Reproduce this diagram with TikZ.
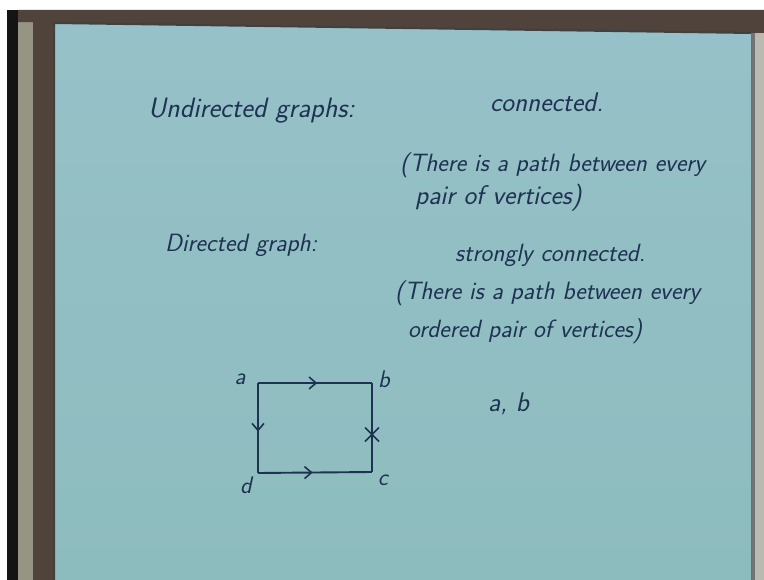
\documentclass[tikz,border=0pt]{standalone}
\usepackage{tikz}
\usetikzlibrary{arrows.meta,decorations.markings}
\usepackage{xcolor}
\definecolor{paper}{RGB}{141,188,190}
\definecolor{paperlt}{RGB}{150,193,200}
\definecolor{ink}{RGB}{30,50,82}
\definecolor{frame}{RGB}{80,67,60}
\definecolor{rim}{RGB}{150,148,130}
\definecolor{wall}{RGB}{185,186,176}
\newcommand{\handsize}[1]{\fontsize{#1}{#1}\selectfont}
\tikzset{
  hand/.style={text=ink,font=\handsize{25}\sffamily\itshape,
    inner sep=0pt,anchor=base west},
  vlabel/.style={text=ink,font=\handsize{24}\sffamily\itshape,inner sep=0pt},
  vtx/.style={inner sep=0pt,minimum size=0pt},
  gedge/.style={line width=1.9pt,color=ink},
  midarrow/.style={postaction={decorate},decoration={markings,
    mark=at position #1 with {\arrow[ink,line width=1.6pt]{Straight Barb[length=7pt,width=12pt]}}}},
  midcross/.style={postaction={decorate},decoration={markings,
    mark=at position #1 with {\draw[ink,line width=1.6pt] (-7pt,-7pt)--(7pt,7pt) (-7pt,7pt)--(7pt,-7pt);}}},
}

\begin{document}
\begin{tikzpicture}[x=1pt,y=-1pt]
  \useasboundingbox (0,0) rectangle (764,580);
  \fill[white] (0,0) rectangle (764,580);
  \fill[black!92] (7,10) rectangle (18,580);
  \fill[rim] (18,10) rectangle (33,580);
  \fill[frame] (33,10) rectangle (55,580);
  \fill[frame] (18,10) -- (764,10) -- (764,35) -- (18,22) -- cycle;
  \fill[wall] (752,33) rectangle (764,580);
  \fill[black!55] (751,33) rectangle (755,580);
  \fill[top color=paperlt,bottom color=paper] (55,23) -- (751,33) -- (751,580) -- (55,580) -- cycle;
  \draw[black!75,line width=2pt] (54,580) -- (54,23) -- (751,33);

  \node[hand,font=\handsize{28}\sffamily\itshape] (undir) at (148,118) {Undirected graphs:};
  \node[hand,font=\handsize{27}\sffamily\itshape] (conn) at (490,112) {connected.};
  \node[hand] (def1a) at (400,172) {(There is a path between every};
  \node[hand,font=\handsize{27}\sffamily\itshape] (def1b) at (415,205) {pair of vertices)};
  \node[hand] (dir) at (165,252) {Directed graph:};
  \node[hand] (sconn) at (455,262) {strongly connected.};
  \node[hand] (def2a) at (395,300) {(There is a path between every};
  \node[hand] (def2b) at (408,338) {ordered pair of vertices)};
  \node[hand,font=\handsize{27}\sffamily\itshape] (pair) at (488,412) {a, b};

  \node[vtx] (a) at (258,383) {};
  \node[vtx] (b) at (372,383) {};
  \node[vtx] (c) at (372,472) {};
  \node[vtx] (d) at (258,473) {};
  \node[vlabel] (la) at (240,379) {a};
  \node[vlabel] (lb) at (384,379) {b};
  \node[vlabel] (lc) at (383,480) {c};
  \node[vlabel] (ld) at (246,485) {d};

  \draw[gedge,midarrow=0.52] (a) -- (b);
  \draw[gedge,midarrow=0.54] (a) -- (d);
  \draw[gedge,midarrow=0.48] (d) -- (c);
  \draw[gedge,midcross=0.42] (c) -- (b);
\end{tikzpicture}
\end{document}
